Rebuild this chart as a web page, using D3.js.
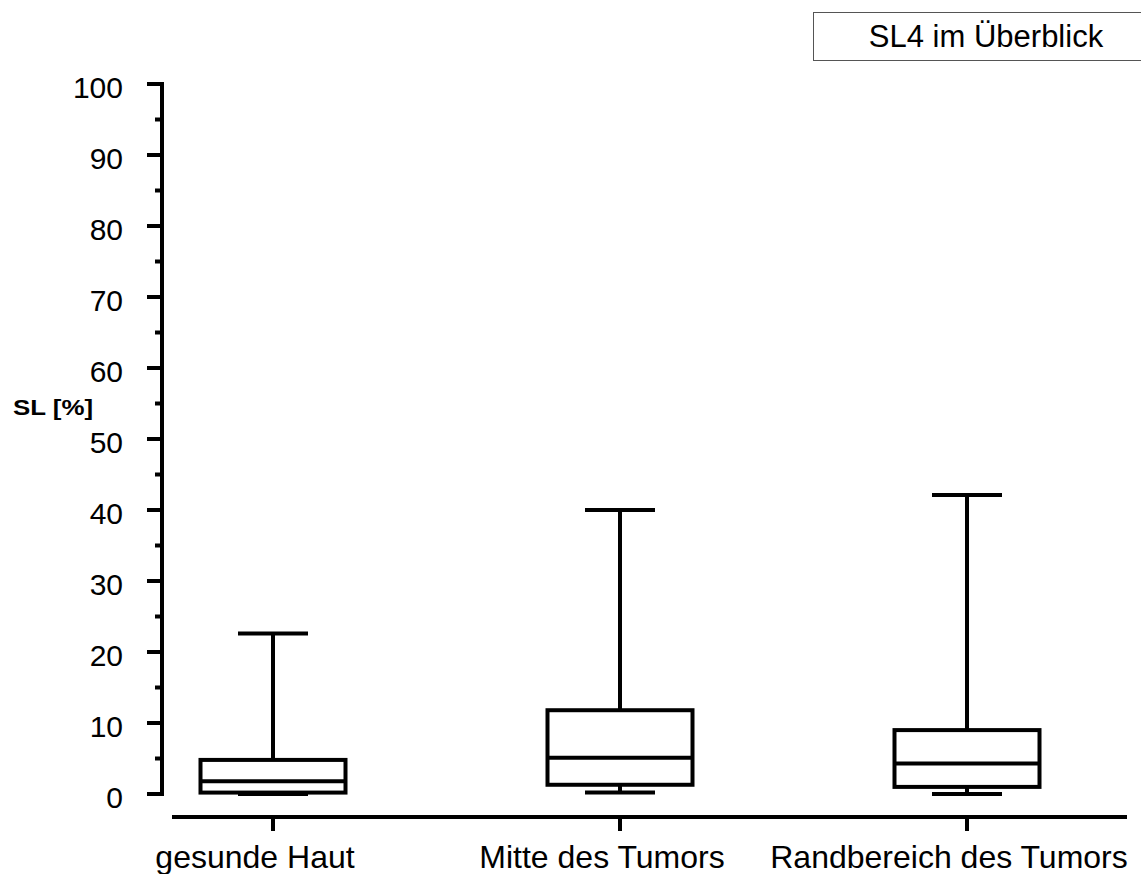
<!DOCTYPE html>
<html>
<head>
<meta charset="utf-8">
<script src="https://cdn.jsdelivr.net/npm/d3@7"></script>
<style>
  html, body { margin: 0; padding: 0; background: #fff; }
  svg { display: block; font-family: "Liberation Sans", Arial, sans-serif; }
</style>
</head>
<body>
<svg id="chart" width="1141" height="874"></svg>
<script>
// SL4 distribution per tissue region (percent)
const categories = ["gesunde Haut", "Mitte des Tumors", "Randbereich des Tumors"];
const whiskerLow  = [0.0, 0.2, 0.0];
const quartile1   = [0.2, 1.3, 1.0];
const medians     = [1.8, 5.1, 4.3];
const quartile3   = [4.8, 11.8, 9.0];
const whiskerHigh = [22.6, 40.0, 42.1];
const yTicks = [0, 10, 20, 30, 40, 50, 60, 70, 80, 90, 100];
const yMinorTicks = [5, 15, 25, 35, 45, 55, 65, 75, 85, 95];
const title = "SL4 im Überblick";
const yLabel = "SL [%]";

const svg = d3.select("#chart");
const sw = 4;

const y = d3.scaleLinear().domain([0, 100]).range([794, 84]);
const x = d3.scalePoint().domain(categories).range([273, 967]);

const data = categories.map((c, i) => ({
  cat: c, lo: whiskerLow[i], q1: quartile1[i], med: medians[i], q3: quartile3[i], hi: whiskerHigh[i]
}));

// Y axis: major ticks with labels, minor ticks between
const yAxis = svg.append("g").attr("transform", "translate(162,0)");
yAxis.append("line")
  .attr("x1", 0).attr("x2", 0)
  .attr("y1", y(100) - sw / 2).attr("y2", y(0) + sw / 2)
  .attr("stroke", "#000").attr("stroke-width", sw);
yAxis.selectAll("line.major").data(yTicks).join("line")
  .attr("class", "major")
  .attr("x1", -15).attr("x2", 0)
  .attr("y1", d => y(d)).attr("y2", d => y(d))
  .attr("stroke", "#000").attr("stroke-width", sw);
yAxis.selectAll("line.minor").data(yMinorTicks).join("line")
  .attr("class", "minor")
  .attr("x1", -7).attr("x2", 0)
  .attr("y1", d => y(d)).attr("y2", d => y(d))
  .attr("stroke", "#000").attr("stroke-width", sw);
yAxis.selectAll("text").data(yTicks).join("text")
  .attr("x", -39).attr("y", d => y(d))
  .attr("dy", "0.46em")
  .attr("text-anchor", "end")
  .attr("font-size", 30)
  .text(d => d);

svg.append("text")
  .attr("x", 13).attr("y", 415)
  .attr("font-size", 22).attr("font-weight", "bold")
  .attr("textLength", 80).attr("lengthAdjust", "spacingAndGlyphs")
  .text(yLabel);

// X axis
const xAxisY = 817;
svg.append("line")
  .attr("x1", 172).attr("x2", 1127)
  .attr("y1", xAxisY).attr("y2", xAxisY)
  .attr("stroke", "#000").attr("stroke-width", sw);
svg.selectAll("line.xtick").data(categories).join("line")
  .attr("class", "xtick")
  .attr("x1", d => x(d)).attr("x2", d => x(d))
  .attr("y1", xAxisY).attr("y2", xAxisY + 14)
  .attr("stroke", "#000").attr("stroke-width", sw);
svg.selectAll("text.xlabel").data(categories).join("text")
  .attr("class", "xlabel")
  .attr("x", d => x(d) - 18).attr("y", 868)
  .attr("text-anchor", "middle")
  .attr("font-size", 32)
  .text(d => d);

// Box plots
const boxW = 145, capW = 70;
const g = svg.selectAll("g.box").data(data).join("g").attr("class", "box");
g.append("line")
  .attr("x1", d => x(d.cat)).attr("x2", d => x(d.cat))
  .attr("y1", d => y(d.hi)).attr("y2", d => y(d.q3))
  .attr("stroke", "#000").attr("stroke-width", sw);
g.append("line")
  .attr("x1", d => x(d.cat)).attr("x2", d => x(d.cat))
  .attr("y1", d => y(d.q1)).attr("y2", d => y(d.lo))
  .attr("stroke", "#000").attr("stroke-width", sw);
g.append("line")
  .attr("x1", d => x(d.cat) - capW / 2).attr("x2", d => x(d.cat) + capW / 2)
  .attr("y1", d => y(d.hi)).attr("y2", d => y(d.hi))
  .attr("stroke", "#000").attr("stroke-width", sw);
g.append("line")
  .attr("x1", d => x(d.cat) - capW / 2).attr("x2", d => x(d.cat) + capW / 2)
  .attr("y1", d => y(d.lo)).attr("y2", d => y(d.lo))
  .attr("stroke", "#000").attr("stroke-width", sw);
g.append("rect")
  .attr("x", d => x(d.cat) - boxW / 2).attr("width", boxW)
  .attr("y", d => y(d.q3)).attr("height", d => y(d.q1) - y(d.q3))
  .attr("fill", "none").attr("stroke", "#000").attr("stroke-width", sw);
g.append("line")
  .attr("x1", d => x(d.cat) - boxW / 2).attr("x2", d => x(d.cat) + boxW / 2)
  .attr("y1", d => y(d.med)).attr("y2", d => y(d.med))
  .attr("stroke", "#000").attr("stroke-width", sw);

// Title box
svg.append("rect")
  .attr("x", 813.5).attr("y", 12.5).attr("width", 340).attr("height", 48)
  .attr("fill", "#fff").attr("stroke", "#555").attr("stroke-width", 1);
svg.append("text")
  .attr("x", 986).attr("y", 47)
  .attr("text-anchor", "middle")
  .attr("font-size", 31)
  .text(title);
</script>
</body>
</html>
